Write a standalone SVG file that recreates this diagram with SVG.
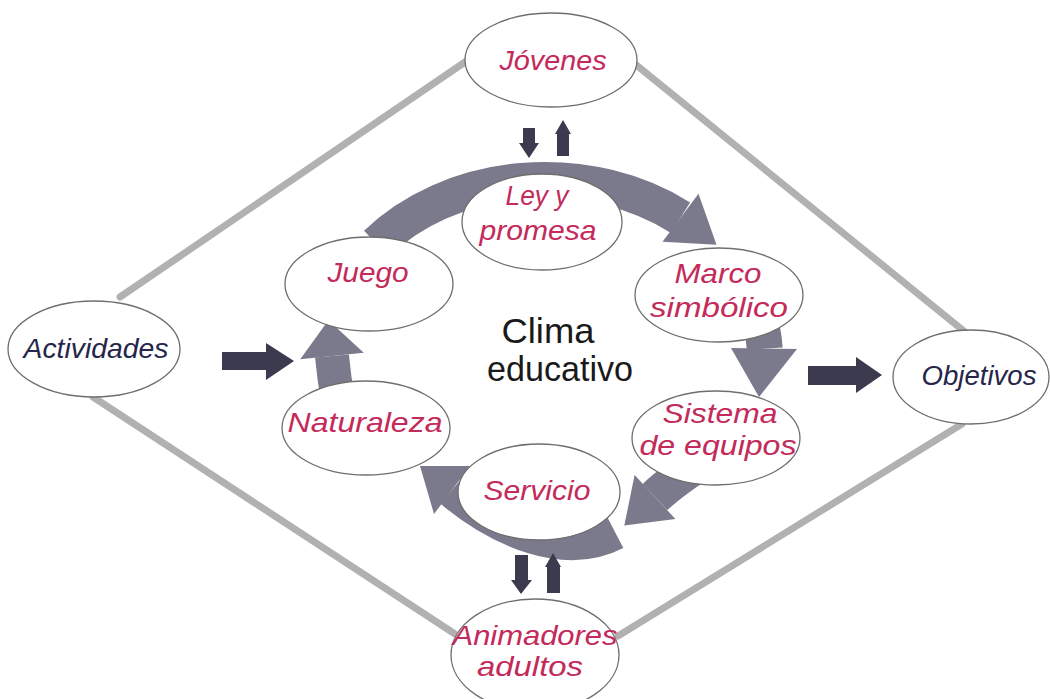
<svg xmlns="http://www.w3.org/2000/svg" width="1050" height="699" viewBox="0 0 1050 699">
<defs>
<style>
.line{stroke:#b1b1b1;stroke-width:7;stroke-linecap:round;fill:none}
.band{stroke:#7b7a8c;stroke-width:36;fill:none}
.head{fill:#7b7a8c}
.dark{fill:#3b3a4e}
.node{fill:#ffffff;stroke:#6e6e6e;stroke-width:1.3}
.lbl{font-family:"Liberation Sans",Arial,sans-serif;font-style:italic;font-size:28px;text-anchor:middle}
.red{fill:#c42a5a}
.blue{fill:#26264a}
.center{font-family:"Liberation Sans",Arial,sans-serif;font-size:35px;fill:#1a1a1a;text-anchor:middle}
</style>
</defs>
<rect width="1050" height="699" fill="#ffffff"/>
<g id="connectors">
<line class="line" x1="468" y1="60" x2="120" y2="297"/>
<line class="line" x1="635" y1="64" x2="965" y2="332"/>
<line class="line" x1="93" y1="397" x2="455" y2="634"/>
<line class="line" x1="618" y1="636" x2="962" y2="424"/>
<path class="band" d="M376.5,243.6 A220,178 0 0,1 680.5,217.7"/>
<polygon class="head" points="662.5,241.7 698.5,193.7 716.5,244.7"/>
<path class="band" d="M757.5,311.9 A220,178 0 0,1 764.7,348.7"/>
<polygon class="head" points="731,348 797,349 759,397"/>
<path class="band" d="M712,455 Q673,480 655,497"/>
<polygon class="head" points="675.4,518.9 634.6,475.1 624.3,525.6"/>
<path class="band" d="M615,532 C565,558 500,530 452,490"/>
<polygon class="head" points="470,466 434,514 420,466"/>
<path class="band" style="stroke-width:34" d="M338,400 Q334,378 332,356"/>
<polygon class="head" points="363.8,352.8 300.2,359.2 328.4,320.2"/>
<polygon class="dark" points="222,352 266,352 266,343 294,361 266,380 266,370 222,370"/>
<polygon class="dark" points="808,366 856,366 856,357 882,375 856,393 856,385 808,385"/>
<polygon class="dark" points="523,128 535,128 535,143 539,143 529,158 519,143 523,143"/>
<polygon class="dark" points="563,120 571,134 569,134 569,156 557,156 557,134 555,134"/>
<polygon class="dark" points="515,555 528,555 528,580 532,580 521,594 511,580 515,580"/>
<polygon class="dark" points="553,553 561,567 560,567 560,593 547,593 547,567 545,567"/>
</g>
<g id="jovenes">
<ellipse class="node" cx="551" cy="60" rx="86" ry="47"/>
<text class="lbl red" x="553" y="70" textLength="107" lengthAdjust="spacingAndGlyphs">Jóvenes</text>
</g>
<g id="actividades">
<ellipse class="node" cx="94" cy="349" rx="86" ry="48"/>
<text class="lbl blue" x="96" y="358" textLength="145" lengthAdjust="spacingAndGlyphs">Actividades</text>
</g>
<g id="objetivos">
<ellipse class="node" cx="971" cy="377" rx="78" ry="47"/>
<text class="lbl blue" x="979" y="385" textLength="115" lengthAdjust="spacingAndGlyphs">Objetivos</text>
</g>
<g id="animadores">
<ellipse class="node" cx="535" cy="655" rx="84" ry="56"/>
<text class="lbl red" x="535" y="645" textLength="165" lengthAdjust="spacingAndGlyphs">Animadores</text>
<text class="lbl red" x="530" y="676" textLength="106" lengthAdjust="spacingAndGlyphs">adultos</text>
</g>
<g id="ley">
<ellipse class="node" cx="542" cy="222" rx="80" ry="48"/>
<text class="lbl red" x="537" y="205" textLength="63" lengthAdjust="spacingAndGlyphs">Ley y</text>
<text class="lbl red" x="538" y="240" textLength="117" lengthAdjust="spacingAndGlyphs">promesa</text>
</g>
<g id="juego">
<ellipse class="node" cx="369" cy="284" rx="84" ry="47"/>
<text class="lbl red" x="368" y="282" textLength="81" lengthAdjust="spacingAndGlyphs">Juego</text>
</g>
<g id="marco">
<ellipse class="node" cx="719" cy="295" rx="84" ry="47"/>
<text class="lbl red" x="718" y="283" textLength="87" lengthAdjust="spacingAndGlyphs">Marco</text>
<text class="lbl red" x="719" y="317" textLength="138" lengthAdjust="spacingAndGlyphs">simbólico</text>
</g>
<g id="naturaleza">
<ellipse class="node" cx="366" cy="428" rx="84" ry="47"/>
<text class="lbl red" x="365" y="432" textLength="155" lengthAdjust="spacingAndGlyphs">Naturaleza</text>
</g>
<g id="sistema">
<ellipse class="node" cx="716" cy="438" rx="84" ry="47"/>
<text class="lbl red" x="720" y="423" textLength="115" lengthAdjust="spacingAndGlyphs">Sistema</text>
<text class="lbl red" x="718" y="455" textLength="157" lengthAdjust="spacingAndGlyphs">de equipos</text>
</g>
<g id="servicio">
<ellipse class="node" cx="539" cy="492" rx="81" ry="48"/>
<text class="lbl red" x="537" y="500" textLength="107" lengthAdjust="spacingAndGlyphs">Servicio</text>
</g>
<g id="clima">
<text class="center" x="548" y="343" textLength="93" lengthAdjust="spacingAndGlyphs">Clima</text>
<text class="center" x="560" y="381" textLength="146" lengthAdjust="spacingAndGlyphs">educativo</text>
</g>
</svg>
